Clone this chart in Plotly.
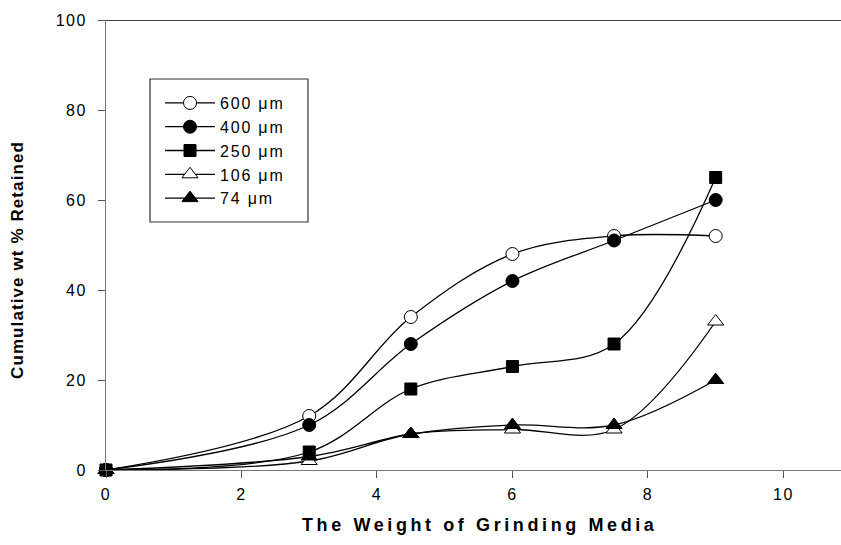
import plotly.graph_objects as go

# Grinding media weight (x) and cumulative wt % retained for each sieve size
media_weight = [0, 3, 4.5, 6, 7.5, 9]
retained_600 = [0, 12, 34, 48, 52, 52]
retained_400 = [0, 10, 28, 42, 51, 60]
retained_250 = [0, 4, 18, 23, 28, 65]
retained_106 = [0, 2, 8, 9, 9, 33]
retained_74 = [0, 3, 8, 10, 10, 20]

series_names = ["600 μm", "400 μm", "250 μm", "106 μm", "74 μm"]
series_values = [retained_600, retained_400, retained_250, retained_106, retained_74]
marker_symbols = ["circle-open", "circle", "square", "triangle-up-open", "triangle-up"]
marker_sizes = [13, 13, 12, 14, 14]

x_ticks = [0, 2, 4, 6, 8, 10]
y_ticks = [0, 20, 40, 60, 80, 100]

FONT = "Arial, Liberation Sans, sans-serif"


def spaced(text, px):
    return f'<span style="letter-spacing:{px}px">{text}</span>'


fig = go.Figure()
for name, vals, sym, size in zip(series_names, series_values, marker_symbols, marker_sizes):
    open_sym = sym.endswith("open")
    fig.add_trace(go.Scatter(
        x=media_weight, y=vals, name=spaced(name, 1.8),
        mode="lines+markers",
        line=dict(color="black", width=1.3, shape="spline", smoothing=1.0),
        marker=dict(
            symbol=sym.replace("-open", "") if open_sym else sym,
            size=size,
            color="white" if open_sym else "black",
            line=dict(color="black", width=1),
        ),
        cliponaxis=False,
    ))

axis_font = dict(family=FONT, size=16, color="black")

# legend frame (paper coordinates of the plotting area)
legend_box = dict(type="rect", xref="paper", yref="paper",
                  x0=0.0599, x1=0.2748, y0=0.5511, y1=0.8689,
                  line=dict(color="#333333", width=1.2), fillcolor="white", layer="below")
top_rule = dict(type="line", xref="paper", yref="y", x0=0, x1=1, y0=100, y1=100,
                line=dict(color="black", width=1.5))

fig.update_layout(
    width=841, height=545,
    margin=dict(l=106, r=0, t=20, b=75),
    paper_bgcolor="white", plot_bgcolor="white",
    font=dict(family=FONT, color="black"),
    showlegend=True,
    legend=dict(
        x=0.0735, y=0.8533, xanchor="left", yanchor="top",
        borderwidth=0, bgcolor="rgba(0,0,0,0)",
        font=dict(family=FONT, size=16, color="black"),
        itemwidth=50,
        tracegroupgap=0,
    ),
    xaxis=dict(
        range=[0, 10.85], tickvals=x_ticks,
        ticktext=[spaced(str(v), 1.4) for v in x_ticks],
        showgrid=False, zeroline=False,
        showline=True, linecolor="#777777", linewidth=1.2,
        ticks="outside", ticklen=7, tickcolor="#555555", tickwidth=1,
        ticklabelstandoff=3,
        tickfont=axis_font,
    ),
    yaxis=dict(
        range=[0, 100], tickvals=y_ticks,
        ticktext=[spaced(str(v), 1.4) for v in y_ticks],
        showgrid=False, zeroline=False,
        showline=True, linecolor="#777777", linewidth=1.2,
        ticks="outside", ticklen=7, tickcolor="#555555", tickwidth=1,
        ticklabelstandoff=8,
        tickfont=axis_font,
    ),
    shapes=[legend_box, top_rule],
    annotations=[
        dict(
            text="<b>" + spaced("Cumulative wt % Retained", 1.1) + "</b>",
            xref="paper", yref="paper", x=0, y=0.4667, xshift=-88,
            xanchor="center", yanchor="middle", textangle=-90, showarrow=False,
            font=dict(family=FONT, size=17, color="black"),
        ),
        dict(
            text="<b>" + spaced("The Weight of Grinding Media", 3.6) + "</b>",
            xref="paper", yref="paper", x=0.5075, y=0, yshift=-55,
            xanchor="center", yanchor="middle", showarrow=False,
            font=dict(family=FONT, size=18, color="black"),
        ),
    ],
)

fig.write_html("out.html")
